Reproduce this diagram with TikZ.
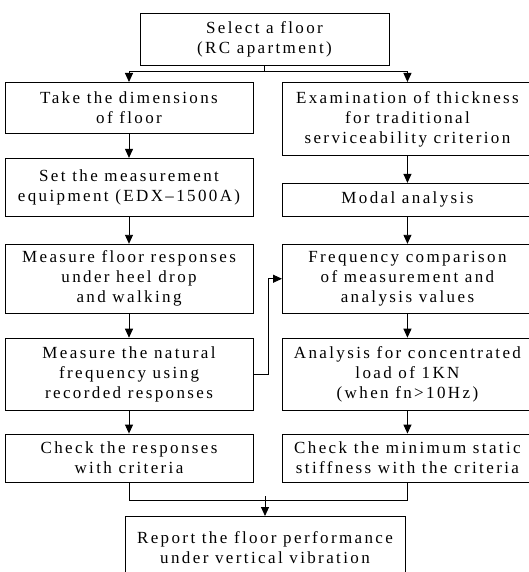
\documentclass[tikz,border=0pt]{standalone}
\usepackage{fontspec}
\setmainfont[LetterSpace=14]{Liberation Serif}
\usepackage{tikz}
\usetikzlibrary{arrows.meta,positioning}

\begin{document}
\begin{tikzpicture}[
  box/.style={draw,line width=0.9pt,align=center,inner sep=2pt,
    font=\fontsize{17}{20}\selectfont},
  lbox/.style={box,minimum width=248pt},
  rbox/.style={box,minimum width=250pt},
  >={Triangle[width=8pt,length=9pt]},
  line width=0.9pt,
  node distance=24pt
]
  \useasboundingbox (0,0) rectangle (529pt,-572pt);
  \node[box,minimum width=249pt,minimum height=52pt] (start) at (264.5pt,-39pt)
    {Select a floor\\(RC apartment)};
  % left column
  \node[lbox,minimum height=51pt,anchor=north] (dim) at (129pt,-82pt)
    {Take the dimensions\\of floor};
  \node[lbox,minimum height=58pt,below=of dim] (equip)
    {Set the measurement\\equipment (EDX–1500A)};
  \node[lbox,minimum height=69pt,below=27pt of equip] (meas)
    {Measure floor responses\\under heel drop\\and walking};
  \node[lbox,minimum height=72pt,below=of meas] (natfreq)
    {Measure the natural\\frequency using\\recorded responses};
  \node[lbox,minimum height=48pt,below=23pt of natfreq] (chkresp)
    {Check the responses\\with criteria};
  % right column
  \node[rbox,minimum height=73pt,anchor=north west] (thick) at (282pt,-82pt)
    {Examination of thickness\\for traditional\\serviceability criterion};
  \node[rbox,minimum height=33pt,below=27pt of thick] (modal)
    {Modal analysis};
  \node[rbox,minimum height=69pt,below=27pt of modal] (compare)
    {Frequency comparison\\of measurement and\\analysis values};
  \node[rbox,minimum height=72pt,below=of compare] (load)
    {Analysis for concentrated\\load of 1KN\\(when fn>10Hz)};
  \node[rbox,minimum height=48pt,below=23pt of load] (stiff)
    {Check the minimum static\\stiffness with the criteria};
  \node[box,minimum width=280pt,minimum height=62pt,anchor=north] (report) at (265pt,-516pt)
    {Report the floor performance\\under vertical vibration};

  \draw (start.south) -- ++(0,-6pt) coordinate (split);
  \draw[->] (split) -| (dim.north);
  \draw[->] (split) -| (thick.north);
  \foreach \a/\b in {dim/equip,equip/meas,meas/natfreq,natfreq/chkresp,
                     thick/modal,modal/compare,compare/load,load/stiff}{
    \draw[->] (\a) -- (\b);
  }
  \draw[->] (natfreq.east) -- ++(15pt,0) |- (compare.west);
  \draw (chkresp.south) -- ++(0,-18pt) -| (stiff.south);
  \draw[->] (report.north) ++(0,20pt) -- (report.north);
\end{tikzpicture}
\end{document}
